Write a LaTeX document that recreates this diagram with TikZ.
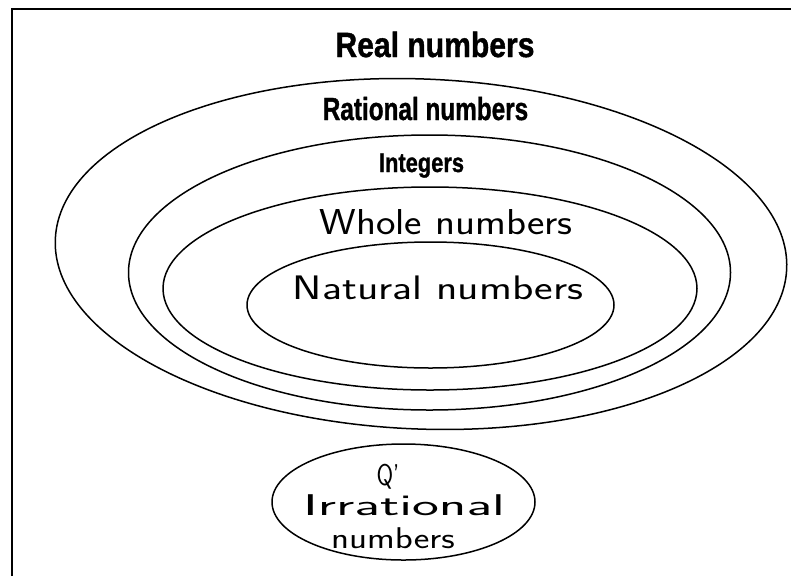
\documentclass[tikz,border=0pt]{standalone}
\usepackage{fontspec}
\usepackage{graphicx}
\newfontfamily\printfont{Liberation Sans}[BoldFeatures={FakeBold=1.2}]
\newcommand{\xstretch}[2]{\scalebox{#1}[1]{#2}}

\begin{document}
\begin{tikzpicture}[x=1pt, y=-1pt, line width=1.5pt,
  printed/.style={anchor=base, inner sep=0pt, font=\printfont\bfseries},
  hand/.style={anchor=base, inner sep=0pt, font=\sffamily}]
  \useasboundingbox (0,0) rectangle (791,576);
  \draw[line width=2pt] (12,576) -- (12,9) -- (791,9);
  \draw[rotate around={-2.3:(421,254)}] (421,254) ellipse [x radius=366, y radius=175];
  \foreach \cx/\cy/\rx/\ry in {429.5/272.5/301/137.5, 430/288.5/267/101.5,
                               430.5/305/183.5/63, 403.5/502/131.5/58}
    \draw (\cx,\cy) ellipse [x radius=\rx, y radius=\ry];
  \foreach \nm/\px/\py/\sz/\sc/\txt in {real/435/57/35/0.86/Real numbers,
                                        rational/425.5/120/32/0.76/Rational numbers,
                                        integers/421.5/172/27/0.81/Integers}
    \node[printed] (\nm) at (\px,\py) {\fontsize{\sz}{\sz}\selectfont\xstretch{\sc}{\txt}};
  \foreach \nm/\px/\py/\sz/\sc/\txt in {whole/446/234/36/1.15/Whole numbers,
                                        natural/438/299/34/1.3/Natural numbers,
                                        qprime/388/485/30/0.8/Q',
                                        irrational/404/515/30/1.9/Irrational,
                                        irrnumbers/393/548/30/1.24/numbers}
    \node[hand] (\nm) at (\px,\py) {\fontsize{\sz}{\sz}\selectfont\xstretch{\sc}{\txt}};
\end{tikzpicture}
\end{document}
